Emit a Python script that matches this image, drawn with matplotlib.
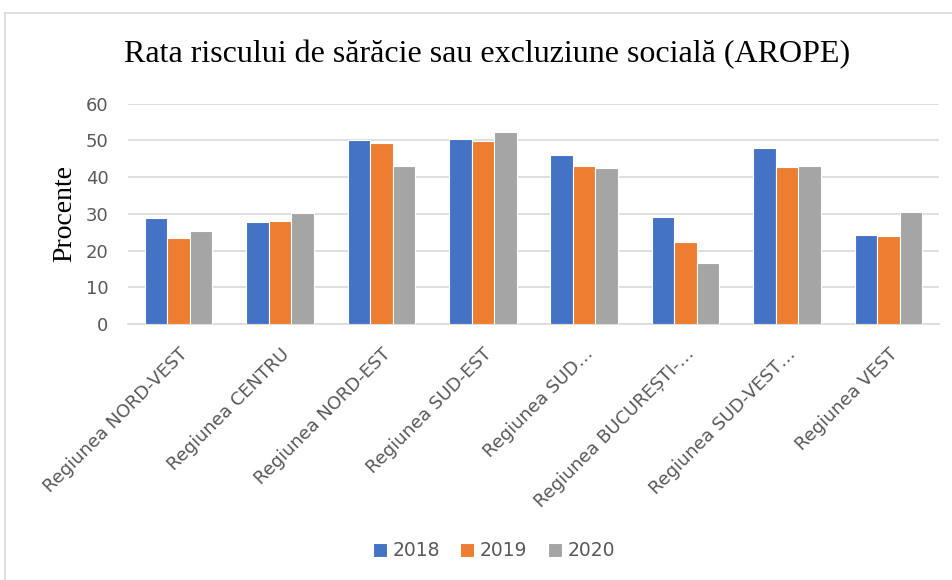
import numpy as np
import matplotlib.pyplot as plt
from matplotlib.lines import Line2D

regiuni = ['Regiunea NORD-VEST', 'Regiunea CENTRU', 'Regiunea NORD-EST',
           'Regiunea SUD-EST', 'Regiunea SUD…', 'Regiunea BUCUREȘTI-…',
           'Regiunea SUD-VEST…', 'Regiunea VEST']
ani = ['2018', '2019', '2020']
v2018 = [28.8, 27.7, 50.0, 50.3, 45.9, 29.1, 47.9, 24.2]
v2019 = [23.5, 28.1, 49.4, 49.8, 43.0, 22.4, 42.7, 23.9]
v2020 = [25.3, 30.2, 43.0, 52.2, 42.4, 16.5, 43.0, 30.4]
culori = ['#4472C4', '#ED7D31', '#A5A5A5']

gri_text = '#595959'
sans = 'DejaVu Sans'
serif = 'Liberation Serif'

fig = plt.figure(figsize=(9.52, 5.8), dpi=100)
ax = fig.add_axes([128/952, 1-324/580, (939-128)/952, (324-103.7)/580])

x = np.arange(len(regiuni))
w = 0.222
for i, (vals, an) in enumerate(zip([v2018, v2019, v2020], ani)):
    ax.bar(x + (i-1)*w, vals, width=w, color=culori[i], edgecolor='white',
           linewidth=0.8, label=an, zorder=3)

ax.set_xlim(-0.5, len(regiuni)-0.5)
ax.set_ylim(0, 60)
ax.set_yticks(range(0, 61, 10))
ax.grid(axis='y', color='#D9D9D9', linewidth=1.2, zorder=0)
for s in ['top', 'right', 'left']:
    ax.spines[s].set_visible(False)
ax.spines['bottom'].set_color('#D9D9D9')
ax.spines['bottom'].set_linewidth(1.2)
ax.tick_params(axis='both', length=0, colors=gri_text, labelsize=13)
ax.tick_params(axis='y', pad=14)
for t in ax.get_yticklabels():
    t.set_family(sans)

ax.set_xticks(x)
ax.set_xticklabels(regiuni, rotation=45, ha='right', rotation_mode='anchor',
                   family=sans, fontsize=13, color=gri_text)
ax.tick_params(axis='x', pad=15)

ax.set_ylabel('Procente', family=serif, fontsize=20, color='black', labelpad=6)
fig.text(487.5/952, 1-55/580, 'Rata riscului de sărăcie sau excluziune socială (AROPE)',
         family=serif, fontsize=23, ha='center', va='center')

leg = ax.legend(loc='center', bbox_to_anchor=(494/952, 1-551/580),
                bbox_transform=fig.transFigure, ncol=3, frameon=False,
                handlelength=0.75, handleheight=0.75, handletextpad=0.3,
                columnspacing=1.1, prop={'family': sans, 'size': 13.5})
for t in leg.get_texts():
    t.set_color(gri_text)

# chenarul graficului
fig.add_artist(Line2D([5/952, 5/952], [0, 1-13/580], color='#D9D9D9', linewidth=1.2))
fig.add_artist(Line2D([5/952, 1], [1-13/580, 1-13/580], color='#D9D9D9', linewidth=1.2))

fig.savefig('out.png', dpi=100)
